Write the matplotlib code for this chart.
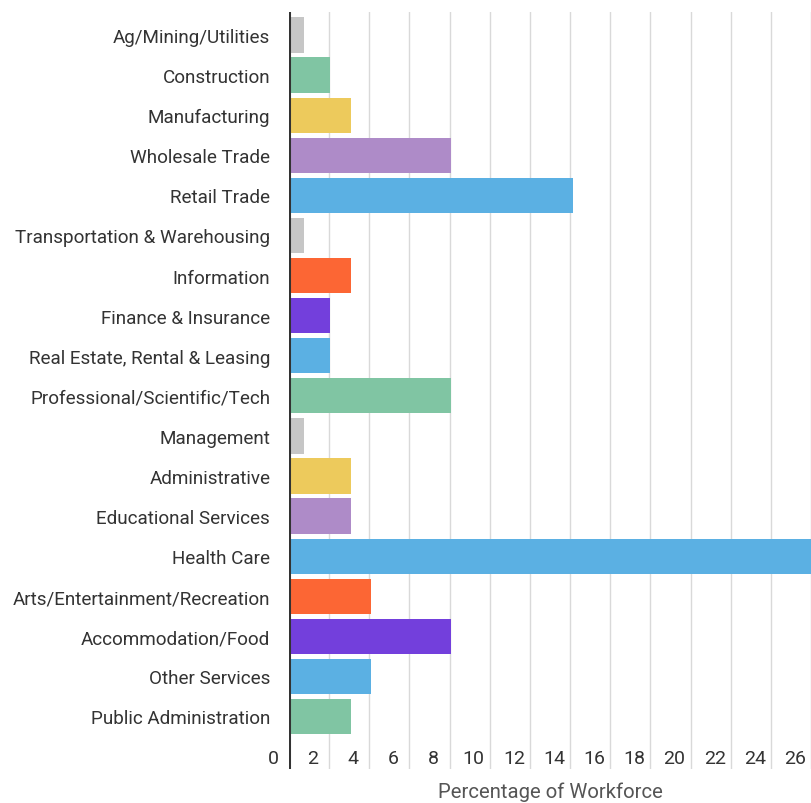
import matplotlib
matplotlib.use("Agg")
import matplotlib.pyplot as plt
import numpy as np

plt.rcParams['font.family'] = ['Roboto', 'DejaVu Sans']

industries = [
    "Ag/Mining/Utilities", "Construction", "Manufacturing", "Wholesale Trade",
    "Retail Trade", "Transportation & Warehousing", "Information",
    "Finance & Insurance", "Real Estate, Rental & Leasing",
    "Professional/Scientific/Tech", "Management", "Administrative",
    "Educational Services", "Health Care", "Arts/Entertainment/Recreation",
    "Accommodation/Food", "Other Services", "Public Administration",
]
share = [0.75, 2.05, 3.1, 8.05, 14.15, 0.75, 3.1, 2.05, 2.05, 8.05,
         0.75, 3.1, 3.1, 27.0, 4.1, 8.05, 4.1, 3.1]
bar_colors = ["#c6c6c6", "#80c5a3", "#edca5c", "#ae8bc8", "#5bb0e3", "#c6c6c6",
              "#fc6634", "#733fdc", "#5bb0e3", "#80c5a3", "#c6c6c6", "#edca5c",
              "#ae8bc8", "#5bb0e3", "#fc6634", "#733fdc", "#5bb0e3", "#80c5a3"]
tick_vals = list(range(0, 27, 2))

fig = plt.figure(figsize=(8.11, 8.04), dpi=100)
ax = fig.add_axes([289 / 811, 34 / 804, 1 - 289 / 811, 757 / 804])

y = np.arange(len(industries))
ax.barh(y, share, height=0.88, color=bar_colors, zorder=2)

ax.set_xlim(0, 25.84)
ax.set_ylim(18.31, -0.574)

ax.set_xticks(tick_vals)
ax.tick_params(axis='x', length=0, labelbottom=False)
ax.grid(axis='x', color='#d9d9d9', linewidth=1)
ax.set_axisbelow(True)
ax.axvline(0, color='#333333', linewidth=2.2, zorder=3)

ax.set_yticks(y)
ax.set_yticklabels(industries, fontsize=13.6, color='#333333')
ax.tick_params(axis='y', length=0, pad=13.5)

for s in ax.spines.values():
    s.set_visible(False)

# tick labels sit half a step left of their gridlines, inside the plot
for v in tick_vals:
    ax.text(v - 0.8, 0.0145, str(v), transform=ax.get_xaxis_transform(),
            ha='center', va='center', fontsize=14, color='#333333')

ax.text(0.5, -0.030, "Percentage of Workforce", transform=ax.transAxes,
        ha='center', va='center', fontsize=14.6, color='#555555')

plt.savefig("out.png", dpi=100)
